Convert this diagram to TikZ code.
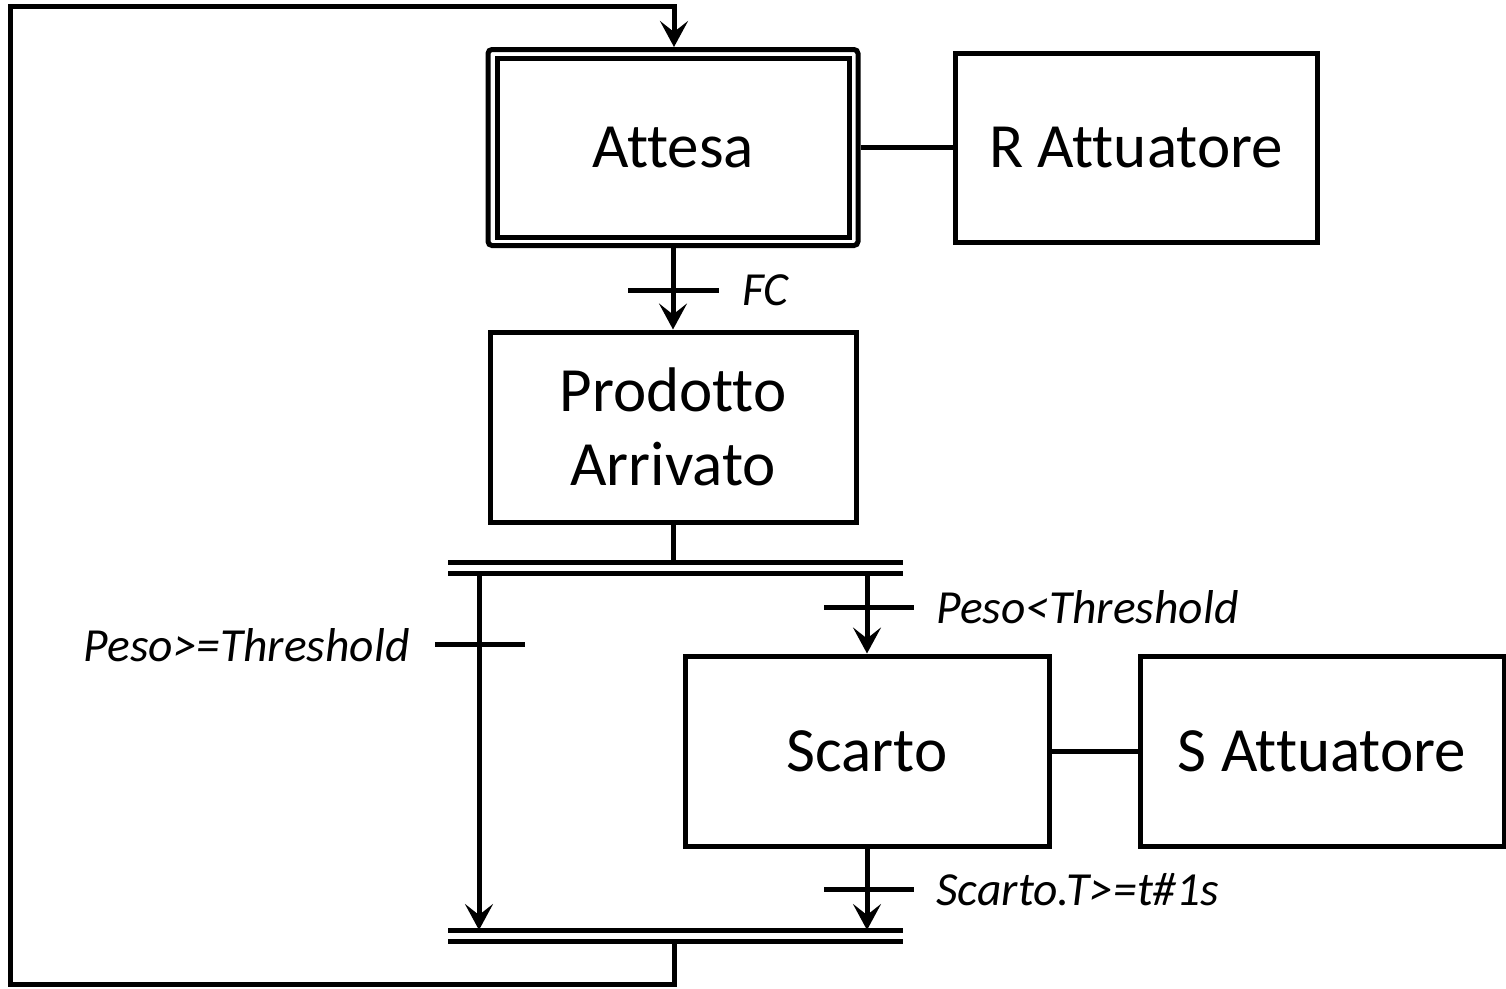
\documentclass[tikz,border=0pt]{standalone}
\usepackage{fontspec}
\setmainfont{Carlito}[Ligatures=NoCommon]
\usetikzlibrary{arrows.meta}
\begin{document}
\begin{tikzpicture}[x=1pt,y=-1pt,
  line width=5pt,
  stepbox/.style={draw,rectangle,inner sep=0pt,font=\fontsize{63}{72}\selectfont,align=center},
  cond/.style={font=\fontsize{47.5}{54}\selectfont\itshape,inner sep=0pt},
  flow/.style={-{Stealth[length=26pt,width=28pt,inset=11pt]}},
  bar/.style={line width=5pt}
]
\useasboundingbox (0,0) rectangle (1506,988);

% steps and actions
\node[stepbox,rounded corners=4pt,minimum width=370pt,minimum height=196pt] (attesa) at (673,147.5) {};
\node[stepbox,minimum width=352pt,minimum height=179pt] (attesain) at (673,148) {Attesa};
\node[stepbox,minimum width=362pt,minimum height=189pt] (ratt) at (1136,147.5) {R Attuatore};
\node[stepbox,minimum width=366pt,minimum height=190pt] (prod) at (673,427) {Prodotto\\[2pt]Arrivato};
\node[stepbox,minimum width=364pt,minimum height=190pt] (scarto) at (867,751) {Scarto};
\node[stepbox,minimum width=364pt,minimum height=190pt] (satt) at (1322,751) {S Attuatore};

\draw (attesa.east) -- (ratt.west);
\draw (scarto.east) -- (satt.west);

% divergence / convergence double bars
\coordinate (d1l) at (448,562); \coordinate (d1r) at (903,562);
\coordinate (d2l) at (448,573); \coordinate (d2r) at (903,573);
\coordinate (c1l) at (448,930); \coordinate (c1r) at (903,930);
\coordinate (c2l) at (448,941); \coordinate (c2r) at (903,941);
\draw[bar] (d1l) -- (d1r);
\draw[bar] (d2l) -- (d2r);
\draw[bar] (c1l) -- (c1r);
\draw[bar] (c2l) -- (c2r);

% branch points
\coordinate (lb) at (479,573);
\coordinate (lbend) at (479,930);
\coordinate (rb) at (867,573);
\coordinate (rbend) at (867,930);
\coordinate (out) at (674,941);
\coordinate (loop1) at (674,984);
\coordinate (loop2) at (10,984);
\coordinate (loop3) at (10,6);
\coordinate (loop4) at (674,6);

% flow lines
\draw[flow] (attesa.south) -- (prod.north);
\draw (prod.south) -- (prod.south |- d1l);
\draw[flow] (lb) -- (lbend);
\draw[flow] (rb) -- (scarto.north);
\draw[flow] (scarto.south) -- (rbend);
\draw[flow] (out) -- (loop1) -- (loop2) -- (loop3) -- (loop4) -- (loop4 |- attesa.north);

% transitions
\coordinate (t1a) at (628,290); \coordinate (t1b) at (719,290);
\draw (t1a) -- (t1b);
\node[cond,anchor=west] (fc) at (740,290) {FC};

\coordinate (t2a) at (435,644); \coordinate (t2b) at (525,644);
\draw (t2a) -- (t2b);
\node[cond,anchor=east] (pge) at (412,645) {Peso>=Threshold};

\coordinate (t3a) at (824,607); \coordinate (t3b) at (914,607);
\draw (t3a) -- (t3b);
\node[cond,anchor=west] (plt) at (934,607) {Peso<Threshold};

\coordinate (t4a) at (824,889); \coordinate (t4b) at (914,889);
\draw (t4a) -- (t4b);
\node[cond,anchor=west] (st) at (934,890) {Scarto.T>=t\#1s};
\end{tikzpicture}
\end{document}
